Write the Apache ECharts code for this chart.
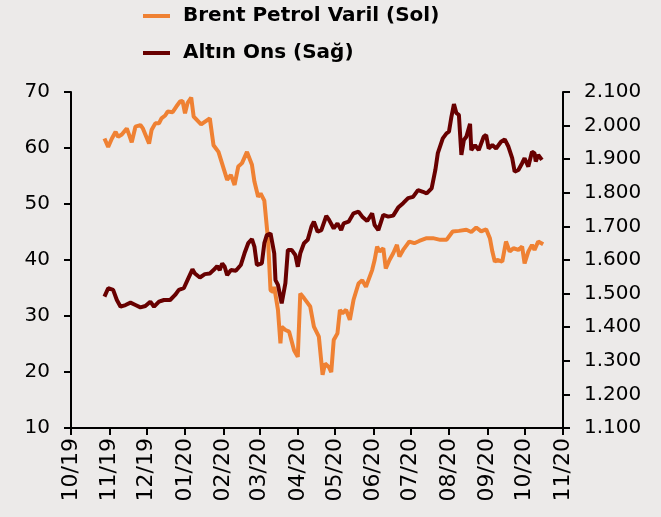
<!DOCTYPE html>
<html>
<head>
<meta charset="utf-8">
<script src="https://cdn.jsdelivr.net/npm/echarts@6/dist/echarts.min.js"></script>
<style>
  html, body { margin: 0; padding: 0; background: #eceae9; }
  #chart { width: 661px; height: 517px; }
</style>
</head>
<body>
<div id="chart"></div>
<script>
const monthTicks = [
  "2019-10-01", "2019-11-01", "2019-12-01", "2020-01-01", "2020-02-01",
  "2020-03-01", "2020-04-01", "2020-05-01", "2020-06-01", "2020-07-01",
  "2020-08-01", "2020-09-01", "2020-10-01", "2020-11-01",
];

const oilDates = [
  "2019-10-28", "2019-10-31", "2019-11-03", "2019-11-06", "2019-11-08", "2019-11-11",
  "2019-11-15", "2019-11-17", "2019-11-19", "2019-11-22", "2019-11-26", "2019-11-28",
  "2019-12-03", "2019-12-05", "2019-12-08", "2019-12-11", "2019-12-13", "2019-12-16",
  "2019-12-18", "2019-12-22", "2019-12-25", "2019-12-28", "2019-12-30", "2020-01-01",
  "2020-01-03", "2020-01-06", "2020-01-08", "2020-01-14", "2020-01-21", "2020-01-24",
  "2020-01-28", "2020-02-04", "2020-02-07", "2020-02-10", "2020-02-13", "2020-02-16",
  "2020-02-20", "2020-02-24", "2020-02-26", "2020-02-29", "2020-03-02", "2020-03-05",
  "2020-03-08", "2020-03-10", "2020-03-12", "2020-03-13", "2020-03-16", "2020-03-18",
  "2020-03-19", "2020-03-22", "2020-03-25", "2020-03-29", "2020-04-01", "2020-04-03",
  "2020-04-06", "2020-04-09", "2020-04-11", "2020-04-14", "2020-04-18", "2020-04-21",
  "2020-04-23", "2020-04-26", "2020-04-28", "2020-04-30", "2020-05-03", "2020-05-05",
  "2020-05-07", "2020-05-10", "2020-05-13", "2020-05-16", "2020-05-20", "2020-05-23",
  "2020-05-26", "2020-05-28", "2020-05-31", "2020-06-02", "2020-06-04", "2020-06-06",
  "2020-06-09", "2020-06-11", "2020-06-14", "2020-06-17", "2020-06-20", "2020-06-22",
  "2020-06-25", "2020-06-28", "2020-06-30", "2020-07-04", "2020-07-08", "2020-07-14",
  "2020-07-19", "2020-07-25", "2020-07-30", "2020-08-04", "2020-08-09", "2020-08-15",
  "2020-08-19", "2020-08-23", "2020-08-27", "2020-08-31", "2020-09-03", "2020-09-05",
  "2020-09-07", "2020-09-09", "2020-09-13", "2020-09-16", "2020-09-19", "2020-09-22",
  "2020-09-26", "2020-09-29", "2020-10-01", "2020-10-04", "2020-10-07", "2020-10-09",
  "2020-10-12", "2020-10-16",
];
const oilValues = [
  61.7, 60.2, 61.7, 62.9, 62.0, 62.4,
  63.5, 62.3, 61.0, 63.8, 64.1, 63.5,
  60.8, 63.2, 64.4, 64.4, 65.3, 65.8,
  66.5, 66.4, 67.4, 68.3, 68.4, 66.2,
  68.0, 69.0, 65.6, 64.2, 65.3, 60.5,
  59.3, 54.3, 55.2, 53.4, 56.7, 57.3,
  59.3, 57.0, 54.0, 51.3, 51.9, 50.6,
  43.6, 34.6, 34.3, 35.2, 31.1, 25.1,
  28.1, 27.5, 27.2, 23.9, 22.7, 34.0,
  33.2, 32.3, 31.7, 28.1, 26.3, 19.5,
  21.5, 20.9, 20.0, 25.7, 26.9, 31.1,
  30.5, 31.1, 29.3, 32.9, 35.8, 36.4,
  35.2, 36.4, 38.2, 40.0, 42.4, 41.5,
  42.1, 38.5, 40.0, 41.2, 42.7, 40.6,
  41.8, 42.7, 43.3, 43.0, 43.4, 43.9,
  43.9, 43.6, 43.6, 45.1, 45.2, 45.4,
  45.0, 45.8, 45.1, 45.5, 43.9, 41.5,
  39.7, 40.0, 39.7, 43.3, 41.5, 42.1,
  41.8, 42.4, 39.4, 41.5, 42.7, 41.8,
  43.3, 42.8,
];

const goldDates = [
  "2019-10-28", "2019-10-31", "2019-11-04", "2019-11-07", "2019-11-10", "2019-11-14",
  "2019-11-18", "2019-11-22", "2019-11-26", "2019-11-30", "2019-12-04", "2019-12-07",
  "2019-12-11", "2019-12-15", "2019-12-20", "2019-12-24", "2019-12-27", "2019-12-31",
  "2020-01-03", "2020-01-07", "2020-01-09", "2020-01-13", "2020-01-17", "2020-01-21",
  "2020-01-24", "2020-01-27", "2020-01-29", "2020-01-31", "2020-02-02", "2020-02-04",
  "2020-02-07", "2020-02-11", "2020-02-15", "2020-02-18", "2020-02-21", "2020-02-24",
  "2020-02-26", "2020-02-28", "2020-03-03", "2020-03-05", "2020-03-07", "2020-03-10",
  "2020-03-13", "2020-03-14", "2020-03-16", "2020-03-19", "2020-03-22", "2020-03-24",
  "2020-03-27", "2020-03-30", "2020-04-01", "2020-04-03", "2020-04-06", "2020-04-09",
  "2020-04-12", "2020-04-14", "2020-04-17", "2020-04-20", "2020-04-24", "2020-04-26",
  "2020-04-30", "2020-05-03", "2020-05-06", "2020-05-08", "2020-05-12", "2020-05-16",
  "2020-05-20", "2020-05-23", "2020-05-27", "2020-05-31", "2020-06-02", "2020-06-05",
  "2020-06-09", "2020-06-13", "2020-06-17", "2020-06-21", "2020-06-25", "2020-06-29",
  "2020-07-03", "2020-07-07", "2020-07-11", "2020-07-14", "2020-07-18", "2020-07-21",
  "2020-07-23", "2020-07-27", "2020-07-30", "2020-08-01", "2020-08-03", "2020-08-05",
  "2020-08-07", "2020-08-09", "2020-08-11", "2020-08-13", "2020-08-15", "2020-08-18",
  "2020-08-19", "2020-08-22", "2020-08-25", "2020-08-29", "2020-08-31", "2020-09-02",
  "2020-09-05", "2020-09-08", "2020-09-12", "2020-09-15", "2020-09-18", "2020-09-21",
  "2020-09-23", "2020-09-26", "2020-09-29", "2020-10-01", "2020-10-04", "2020-10-07",
  "2020-10-09", "2020-10-10", "2020-10-12", "2020-10-15",
];
const goldValues = [
  1491, 1516, 1511, 1481, 1461, 1466,
  1473, 1466, 1459, 1463, 1476, 1461,
  1476, 1481, 1481, 1496, 1511, 1516,
  1540, 1572, 1560, 1548, 1558, 1560,
  1570, 1582, 1570, 1590, 1580, 1555,
  1570, 1568, 1585, 1620, 1650, 1662,
  1640, 1585, 1590, 1650, 1674, 1679,
  1620, 1540, 1526, 1471, 1531, 1630,
  1630, 1615, 1580, 1620, 1650, 1660,
  1699, 1714, 1684, 1689, 1731, 1721,
  1694, 1709, 1689, 1709, 1714, 1739,
  1744, 1729, 1716, 1739, 1704, 1689,
  1734, 1729, 1732, 1756, 1769, 1784,
  1788, 1808, 1803, 1798, 1813, 1868,
  1918, 1962, 1977, 1982, 2027, 2064,
  2037, 2032, 1913, 1957, 1967, 2005,
  1927, 1942, 1927, 1967, 1972, 1932,
  1942, 1932, 1952, 1959, 1937, 1903,
  1863, 1868, 1888, 1903, 1878, 1922,
  1918, 1893, 1913, 1898,
];

const oilName = "Brent Petrol Varil (Sol)";
const goldName = "Altın Ons (Sağ)";

const toTime = (s) => {
  const [y, m, d] = s.split("-").map(Number);
  return Date.UTC(y, m - 1, d);
};
const pairs = (dates, values) => dates.map((d, i) => [toTime(d), values[i]]);
const tickTimes = monthTicks.map(toTime);

const font = "DejaVu Sans";
const axisLine = { show: true, onZero: false, lineStyle: { color: "#000", width: 2 } };
const axisTick = { show: true, length: 7, lineStyle: { color: "#000", width: 2 } };

const myChart = echarts.init(document.getElementById("chart"));

myChart.setOption({
  backgroundColor: "#eceae9",
  animation: false,
  legend: {
    orient: "vertical",
    left: 138,
    top: 1,
    itemGap: 17,
    icon: "rect",
    itemWidth: 27,
    itemHeight: 4,
    textStyle: {
      fontFamily: font,
      fontWeight: "bold",
      fontSize: 20,
      color: "#000",
      padding: [0, 0, 0, 8],
    },
    data: [oilName, goldName],
  },
  grid: { left: 71, right: 98, top: 92, bottom: 89 },
  xAxis: {
    // timestamps on a value axis, month ticks placed explicitly
    type: "value",
    min: tickTimes[0],
    max: tickTimes[tickTimes.length - 1],
    axisLine: axisLine,
    axisTick: { ...axisTick, customValues: tickTimes },
    splitLine: { show: false },
    axisLabel: {
      customValues: tickTimes,
      rotate: 90,
      margin: 10,
      fontFamily: font,
      fontSize: 22,
      color: "#000",
      formatter: (v) => {
        const d = new Date(v);
        const mm = String(d.getUTCMonth() + 1).padStart(2, "0");
        const yy = String(d.getUTCFullYear()).slice(2);
        return mm + "/" + yy;
      },
    },
  },
  yAxis: [
    {
      type: "value",
      min: 10,
      max: 70,
      interval: 10,
      axisLine: axisLine,
      axisTick: axisTick,
      splitLine: { show: false },
      axisLabel: { margin: 21, fontFamily: font, fontSize: 20, color: "#000" },
    },
    {
      type: "value",
      position: "right",
      min: 1100,
      max: 2100,
      interval: 100,
      axisLine: axisLine,
      axisTick: axisTick,
      splitLine: { show: false },
      axisLabel: {
        margin: 21,
        fontFamily: font,
        fontSize: 20,
        color: "#000",
        formatter: (v) => String(v).replace(/\B(?=(\d{3})+(?!\d))/g, "."),
      },
    },
  ],
  series: [
    {
      name: oilName,
      type: "line",
      yAxisIndex: 0,
      showSymbol: false,
      color: "#ef8133",
      lineStyle: { width: 4, color: "#ef8133" },
      data: pairs(oilDates, oilValues),
    },
    {
      name: goldName,
      type: "line",
      yAxisIndex: 1,
      showSymbol: false,
      color: "#680000",
      lineStyle: { width: 4, color: "#680000" },
      data: pairs(goldDates, goldValues),
    },
  ],
});
</script>
</body>
</html>
